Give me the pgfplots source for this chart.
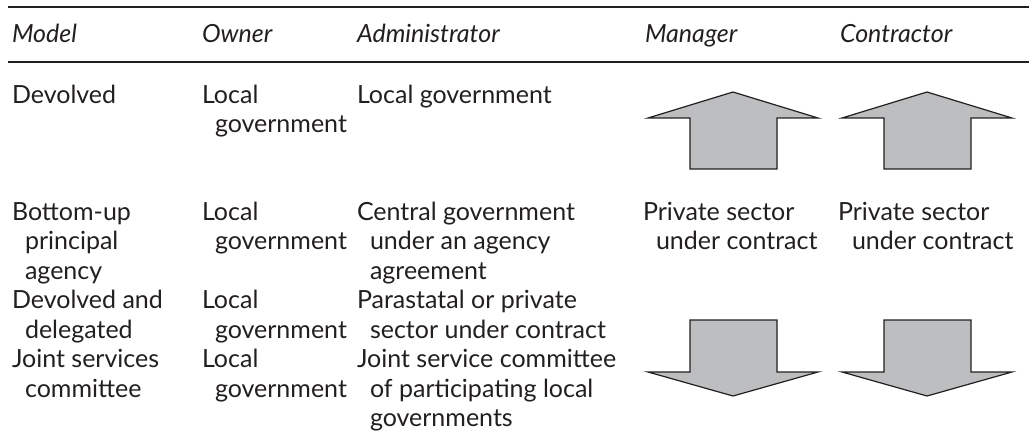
\documentclass[border=0pt]{standalone}
\usepackage{pgfplots}
\pgfplotsset{compat=1.18}
\usepackage{fontspec}
\setmainfont{Lato}
\definecolor{ink}{HTML}{231F20}
\definecolor{arrowfill}{HTML}{BDBEC0}
\tikzset{tx/.style={anchor=base west, inner sep=0pt, outer sep=0pt, text=ink, font=\fontsize{12.5bp}{15bp}\selectfont}}
\begin{document}
\begin{tikzpicture}
\begin{axis}[
  width=516.5bp, height=223.5bp, scale only axis,
  xmin=0, xmax=1033, ymin=0, ymax=447, y dir=reverse,
  axis lines=none, clip=false,
]
\addplot[draw=none, forget plot] coordinates {(0,0) (1033,447)};
% rules
\addplot[ink, line width=0.8bp] coordinates {(8,7) (1029,7)};
\addplot[ink, line width=0.8bp] coordinates {(8,62) (1029,62)};
% arrows up
\addplot[draw=ink, fill=arrowfill, line width=0.6bp] coordinates {(648,118) (733,92) (818,118) (777,118) (777,169) (690,169) (690,118)} -- cycle;
\addplot[draw=ink, fill=arrowfill, line width=0.6bp] coordinates {(842,118) (927,92) (1012,118) (971,118) (971,169) (884,169) (884,118)} -- cycle;
% arrows down
\addplot[draw=ink, fill=arrowfill, line width=0.6bp] coordinates {(648,372) (733,396) (818,372) (777,372) (777,320) (690,320) (690,372)} -- cycle;
\addplot[draw=ink, fill=arrowfill, line width=0.6bp] coordinates {(842,372) (927,396) (1012,372) (971,372) (971,320) (884,320) (884,372)} -- cycle;
% header
\node[tx] at (axis cs:12,43) {\itshape Model};
\node[tx] at (axis cs:202,43) {\itshape Owner};
\node[tx] at (axis cs:357,43) {\itshape Administrator};
\node[tx] at (axis cs:645,43) {\itshape Manager};
\node[tx] at (axis cs:840,43) {\itshape Contractor};
% row 1
\node[tx] at (axis cs:12,103) {Devolved};
\node[tx] at (axis cs:202,103) {Local};
\node[tx] at (axis cs:215,132) {government};
\node[tx] at (axis cs:357,103) {Local government};
% row 2
\node[tx] at (axis cs:12,220) {Bottom-up};
\node[tx] at (axis cs:25,249.5) {principal};
\node[tx] at (axis cs:25,279) {agency};
\node[tx] at (axis cs:202,220) {Local};
\node[tx] at (axis cs:215,249.5) {government};
\node[tx] at (axis cs:357,220) {Central government};
\node[tx] at (axis cs:370,249.5) {under an agency};
\node[tx] at (axis cs:370,279) {agreement};
\node[tx] at (axis cs:643,220) {Private sector};
\node[tx] at (axis cs:656,249.5) {under contract};
\node[tx] at (axis cs:838,220) {Private sector};
\node[tx] at (axis cs:852,249.5) {under contract};
% row 3
\node[tx] at (axis cs:12,308.5) {Devolved and};
\node[tx] at (axis cs:25,338) {delegated};
\node[tx] at (axis cs:202,308.5) {Local};
\node[tx] at (axis cs:215,338) {government};
\node[tx] at (axis cs:357,308.5) {Parastatal or private};
\node[tx] at (axis cs:370,338) {sector under contract};
% row 4
\node[tx] at (axis cs:12,367.5) {Joint services};
\node[tx] at (axis cs:25,397) {committee};
\node[tx] at (axis cs:202,367.5) {Local};
\node[tx] at (axis cs:215,397) {government};
\node[tx] at (axis cs:357,367.5) {Joint service committee};
\node[tx] at (axis cs:370,397) {of participating local};
\node[tx] at (axis cs:370,426.5) {governments};
\end{axis}
\end{tikzpicture}
\end{document}
